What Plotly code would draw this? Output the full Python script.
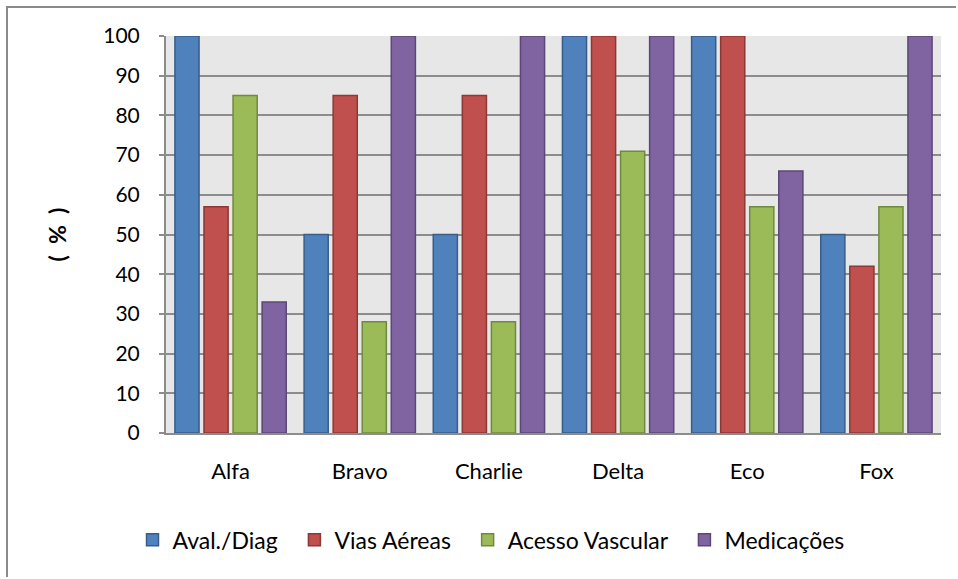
import plotly.graph_objects as go

# Categories and series values (%)
categories = ["Alfa", "Bravo", "Charlie", "Delta", "Eco", "Fox"]
aval_diag = [100, 50, 50, 100, 100, 50]
vias_aereas = [57, 85, 85, 100, 100, 42]
acesso_vascular = [85, 28, 28, 71, 57, 57]
medicacoes = [33, 100, 100, 100, 66, 100]
y_ticks = list(range(0, 101, 10))

series = [
    ("Aval./Diag", aval_diag, "#4F81BD", "#385D8A"),
    ("Vias Aéreas", vias_aereas, "#C0504D", "#8C3836"),
    ("Acesso Vascular", acesso_vascular, "#9BBB59", "#71893F"),
    ("Medicações", medicacoes, "#8064A2", "#5C4776"),
]

FONT = "Lato, 'Open Sans', sans-serif"
GRID = "#8C8C8C"
PAD = "\u00a0\u00a0"  # extra room after each legend label

fig = go.Figure()
for i, (name, vals, fill, edge) in enumerate(series):
    fig.add_trace(go.Bar(
        name=name + (PAD if i < len(series) - 1 else ""), x=categories, y=vals,
        marker=dict(color=fill, line=dict(color=edge, width=1.5)),
    ))

W, H = 958, 579
px0, px1 = 166, 941
py0, py1 = 36, 433
pw, ph = px1 - px0, py1 - py0

# Chart frame: open path along its left and top edges
fx = (7 - px0) / pw
fy = (py1 - 7) / ph
ex = (W - 2 - px0) / pw
ey = (py1 - (H - 2)) / ph
frame_path = f"M {fx},{ey} L {fx},{fy} L {ex},{fy}"

fig.update_layout(
    width=W, height=H,
    margin=dict(l=px0, r=W - px1, t=py0, b=H - py1),
    paper_bgcolor="white",
    plot_bgcolor="#E7E7E7",
    barmode="group",
    bargap=0.10,
    bargroupgap=0.17,
    font=dict(family=FONT, size=21, color="black"),
    showlegend=True,
    legend=dict(
        orientation="h", x=(491 - px0) / pw, xanchor="center", y=-0.215, yanchor="top",
        font=dict(family=FONT, size=23, color="black"),
        itemwidth=30, traceorder="normal",
    ),
    xaxis=dict(
        showgrid=False, showline=True, linecolor=GRID, linewidth=2,
        ticks="", ticklabelstandoff=18,
        tickfont=dict(family=FONT, size=22),
    ),
    yaxis=dict(
        range=[0, 100], tickvals=y_ticks, ticktext=[str(v) for v in y_ticks],
        showgrid=True, gridcolor=GRID, gridwidth=2,
        showline=True, linecolor=GRID, linewidth=2,
        ticks="outside", ticklen=5, tickcolor=GRID, tickwidth=2,
        ticklabelstandoff=15,
        tickfont=dict(family=FONT, size=21),
        title=dict(text="<b>(  %  )</b>", font=dict(family=FONT, size=23), standoff=30),
        zeroline=False,
    ),
    shapes=[dict(
        type="path", xref="paper", yref="paper", path=frame_path,
        line=dict(color="#8A8A8A", width=2), fillcolor="rgba(0,0,0,0)",
    )],
)

fig.write_html("out.html")
